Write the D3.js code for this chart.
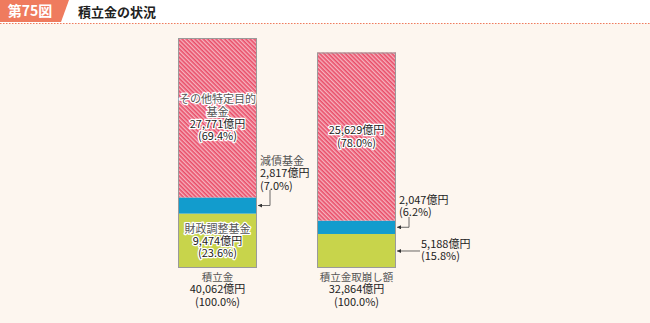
<!DOCTYPE html>
<html><head><meta charset="utf-8">
<script src="https://cdn.jsdelivr.net/npm/d3@7"></script>
<style>
html,body{margin:0;padding:0;background:#fdf6ef;}
svg{display:block;font-family:"Noto Sans CJK JP","Noto Sans",sans-serif;}
.halo{paint-order:stroke;stroke:#fff;stroke-width:2.6px;stroke-linejoin:round;}
</style></head>
<body>
<script>
// ---- data ----
const barNames = ["積立金", "積立金取崩し額"];
const barTotals = ["40,062億円", "32,864億円"];
const segmentNames = ["財政調整基金", "減債基金", "その他特定目的基金"];
const valuesReserve = [9474, 2817, 27771];
const valuesDrawdown = [5188, 2047, 25629];
const pctReserve = ["23.6%", "7.0%", "69.4%"];
const pctDrawdown = ["15.8%", "6.2%", "78.0%"];
const figLabel = "第75図";
const title = "積立金の状況";

const W = 650, H = 323;
const svg = d3.select("body").append("svg").attr("width", W).attr("height", H);

// defs: hatch
const defs = svg.append("defs");
const pat = defs.append("pattern").attr("id", "hatch").attr("patternUnits", "userSpaceOnUse")
  .attr("width", 3).attr("height", 3).attr("patternTransform", "rotate(45)");
pat.append("rect").attr("width", 3).attr("height", 3).attr("fill", "#f6b3bf");
pat.append("rect").attr("width", 3).attr("height", 1.6).attr("fill", "#e94d68");
defs.append("marker").attr("id", "arr").attr("viewBox", "0 0 6 6").attr("refX", 6).attr("refY", 3)
  .attr("markerWidth", 5).attr("markerHeight", 5).attr("orient", "auto")
  .append("path").attr("d", "M0,0 L6,3 L0,6 Z").attr("fill", "#333");

// header
svg.append("rect").attr("x", 0).attr("y", 0).attr("width", W).attr("height", 23).attr("fill", "#ffffff");
svg.append("path").attr("d", "M0,0 L69,0 L61,22 L0,22 Z").attr("fill", "#ef7b5e");
svg.append("text").attr("x", 30).attr("y", 16).attr("text-anchor", "middle")
  .attr("font-size", 14).attr("font-weight", "bold").attr("fill", "#fff").text(figLabel);
svg.append("text").attr("x", 78).attr("y", 16.5)
  .attr("font-size", 13).attr("font-weight", "bold").attr("fill", "#222").text(title);
svg.append("line").attr("x1", 0).attr("x2", W).attr("y1", 23.5).attr("y2", 23.5)
  .attr("stroke", "#ef7b5e").attr("stroke-width", 1).attr("stroke-dasharray", "1.5,1.5");

const colors = ["#c8d44b", "#129ccd", "url(#hatch)"];
const x = d3.scaleBand().domain(barNames).range([178, 396]).paddingInner(60 / 139).paddingOuter(0);
const bottom = 268;
const bars = [
  {name: barNames[0], vals: valuesReserve, pcts: pctReserve, total: barTotals[0], top: 38},
  {name: barNames[1], vals: valuesDrawdown, pcts: pctDrawdown, total: barTotals[1], top: 52.5}
];

function labelText(g, xPos, yPos, lines, anchor, halo) {
  const t = g.append("text").attr("text-anchor", anchor).attr("font-size", 11);
  lines.forEach((l, i) => {
    t.append("tspan").attr("x", xPos).attr("y", yPos + i * 12.3)
      .attr("font-size", l.size || 11).attr("fill", l.c || "#222")
      .attr("class", halo ? "halo" : null).text(l.t);
  });
}

bars.forEach((b, bi) => {
  const sum = d3.sum(b.vals);
  const y = d3.scaleLinear().domain([0, sum]).range([bottom, b.top]);
  const x0 = x(b.name), bw = x.bandwidth();
  let cum = 0;
  const segs = b.vals.map((v, i) => { const s = {i, y0: cum, y1: cum + v}; cum += v; return s; });
  const g = svg.append("g");
  g.selectAll("rect.seg").data(segs).join("rect").attr("class", "seg")
    .attr("x", x0).attr("width", bw)
    .attr("y", d => y(d.y1)).attr("height", d => y(d.y0) - y(d.y1))
    .attr("fill", d => colors[d.i]);
  g.append("rect").attr("x", x0 + 0.5).attr("y", b.top + 0.5).attr("width", bw - 1).attr("height", bottom - b.top - 1)
    .attr("fill", "none").attr("stroke", "#9a9a9a").attr("stroke-width", 1);
  const cx = x0 + bw / 2, right = x0 + bw;
  const gy = s => y((s.y0 + s.y1) / 2);
  // pink label
  const pinkLines = bi === 0
    ? [{t: "その他特定目的", c: "#555"}, {t: "基金", c: "#555"}, {t: b.vals[2].toLocaleString("en-US") + "億円"}, {t: "(" + b.pcts[2] + ")"}]
    : [{t: b.vals[2].toLocaleString("en-US") + "億円"}, {t: "(" + b.pcts[2] + ")"}];
  labelText(g, cx, gy(segs[2]) - (pinkLines.length - 1) * 6.15 + 4, pinkLines, "middle", true);
  // green
  const green = segs[0];
  if (bi === 0) {
    labelText(g, cx, gy(green) - 12.3 + 4, [{t: "財政調整基金", c: "#555"}, {t: b.vals[0].toLocaleString("en-US") + "億円"}, {t: "(" + b.pcts[0] + ")"}], "middle", true);
  } else {
    const ay = gy(green);
    g.append("line").attr("x1", right + 24).attr("x2", right + 1).attr("y1", ay).attr("y2", ay)
      .attr("stroke", "#444").attr("stroke-width", 0.8).attr("marker-end", "url(#arr)");
    labelText(g, right + 25, ay - 3, [{t: b.vals[0].toLocaleString("en-US") + "億円"}, {t: "(" + b.pcts[0] + ")"}], "start", false);
  }
  // blue
  const blue = segs[1];
  const by = gy(blue);
  if (bi === 0) {
    labelText(g, right + 3, 165, [{t: "減債基金", c: "#555"}, {t: b.vals[1].toLocaleString("en-US") + "億円"}, {t: "(" + b.pcts[1] + ")"}], "start", false);
    g.append("path").attr("d", `M${right + 13},190 V${by} H${right + 1}`).attr("fill", "none")
      .attr("stroke", "#444").attr("stroke-width", 0.8).attr("marker-end", "url(#arr)");
  } else {
    labelText(g, right + 3, 204, [{t: b.vals[1].toLocaleString("en-US") + "億円"}, {t: "(" + b.pcts[1] + ")"}], "start", false);
    g.append("path").attr("d", `M${right + 13},217 V${by} H${right + 1}`).attr("fill", "none")
      .attr("stroke", "#444").attr("stroke-width", 0.8).attr("marker-end", "url(#arr)");
  }
  // bottom labels
  labelText(g, cx, 281, [{t: b.name, c: "#555", size: 10.5}, {t: b.total}, {t: "(100.0%)"}], "middle", false);
});
</script>
</body></html>
